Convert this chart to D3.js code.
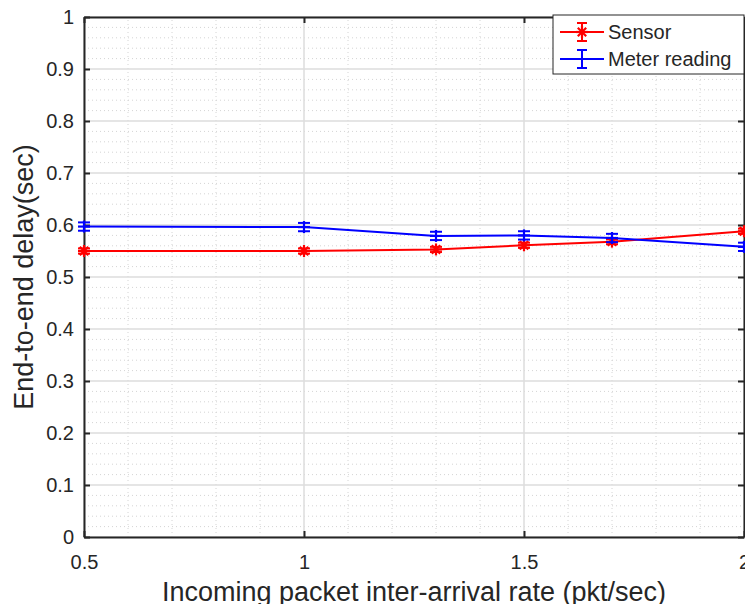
<!DOCTYPE html>
<html>
<head>
<meta charset="utf-8">
<script src="https://cdn.jsdelivr.net/npm/d3@7"></script>
<style>
  html, body { margin: 0; padding: 0; background: #fff; }
  svg text { font-family: "Liberation Sans", Arial, Helvetica, sans-serif; fill: #262626; }
</style>
</head>
<body>
<div id="chart"></div>
<script>
const WIDTH = 745;
const HEIGHT = 604;
const MARGIN = { left: 84, right: 1, top: 17, bottom: 67 };

const RATES = [0.5, 1, 1.3, 1.5, 1.7, 2];
const SENSOR_DELAY = [0.550, 0.550, 0.553, 0.561, 0.568, 0.588];
const SENSOR_ERR = [0.005, 0.005, 0.005, 0.005, 0.005, 0.005];
const METER_DELAY = [0.597, 0.596, 0.579, 0.580, 0.575, 0.558];
const METER_ERR = [0.008, 0.008, 0.008, 0.008, 0.008, 0.008];

const X_TICKS = [0.5, 1, 1.5, 2];
const Y_TICKS = [0, 0.1, 0.2, 0.3, 0.4, 0.5, 0.6, 0.7, 0.8, 0.9, 1];

const SERIES = [
  { name: 'Sensor', color: '#ff0000', values: SENSOR_DELAY, errs: SENSOR_ERR, marker: 'star' },
  { name: 'Meter reading', color: '#0000ff', values: METER_DELAY, errs: METER_ERR, marker: 'plus' }
];

const CAP_HALF = 6;
const AXIS_COLOR = '#262626';

document.addEventListener('DOMContentLoaded', function() {
  drawChart();
});

function drawChart()
{
  var svg = d3.select('#chart').append('svg')
    .attr('width', WIDTH)
    .attr('height', HEIGHT);

  var x = d3.scaleLinear().domain([0.5, 2]).range([MARGIN.left, WIDTH - MARGIN.right]);
  var y = d3.scaleLinear().domain([0, 1]).range([HEIGHT - MARGIN.bottom, MARGIN.top]);

  var x0 = x.range()[0], x1 = x.range()[1];
  var y0 = y.range()[0], y1 = y.range()[1];

  // minor grid (dotted)
  var minorX = d3.range(0.6, 2, 0.1).filter(function(v) { return Math.abs(v * 2 - Math.round(v * 2)) > 1e-6; });
  var minorY = d3.range(0.02, 1, 0.02).filter(function(v) { return Math.abs(v * 10 - Math.round(v * 10)) > 1e-6; });
  var grid = svg.append('g');
  grid.selectAll('line.mx').data(minorX).enter().append('line')
    .attr('x1', function(d) { return x(d); }).attr('x2', function(d) { return x(d); })
    .attr('y1', y0).attr('y2', y1)
    .style('stroke', '#d4d4d4').style('stroke-width', 1).style('stroke-dasharray', '1,3');
  grid.selectAll('line.my').data(minorY).enter().append('line')
    .attr('y1', function(d) { return y(d); }).attr('y2', function(d) { return y(d); })
    .attr('x1', x0).attr('x2', x1)
    .style('stroke', '#d4d4d4').style('stroke-width', 1).style('stroke-dasharray', '1,3');

  // major grid
  grid.selectAll('line.gx').data(X_TICKS).enter().append('line')
    .attr('x1', function(d) { return x(d); }).attr('x2', function(d) { return x(d); })
    .attr('y1', y0).attr('y2', y1)
    .style('stroke', '#dcdcdc').style('stroke-width', 1.5);
  grid.selectAll('line.gy').data(Y_TICKS).enter().append('line')
    .attr('y1', function(d) { return y(d); }).attr('y2', function(d) { return y(d); })
    .attr('x1', x0).attr('x2', x1)
    .style('stroke', '#dcdcdc').style('stroke-width', 1.5);

  // axes
  var fmt = function(d) { return d3.format('~g')(d); };
  var axB = svg.append('g').attr('transform', 'translate(0,' + y0 + ')')
    .call(d3.axisBottom(x).tickValues(X_TICKS).tickSizeInner(-6).tickSizeOuter(0).tickPadding(18).tickFormat(fmt));
  var axT = svg.append('g').attr('transform', 'translate(0,' + y1 + ')')
    .call(d3.axisTop(x).tickValues(X_TICKS).tickSizeInner(-6).tickSizeOuter(0).tickFormat(''));
  var axL = svg.append('g').attr('transform', 'translate(' + x0 + ',0)')
    .call(d3.axisLeft(y).tickValues(Y_TICKS).tickSizeInner(-6).tickSizeOuter(0).tickPadding(10).tickFormat(fmt));
  var axR = svg.append('g').attr('transform', 'translate(' + x1 + ',0)')
    .call(d3.axisRight(y).tickValues(Y_TICKS).tickSizeInner(-6).tickSizeOuter(0).tickFormat(''));

  [axB, axT, axL, axR].forEach(function(a) {
    a.select('.domain').style('stroke', AXIS_COLOR).style('stroke-width', 2);
    a.selectAll('.tick line').style('stroke', AXIS_COLOR).style('stroke-width', 2);
    a.selectAll('.tick text').style('font-size', '20px').style('fill', AXIS_COLOR);
  });

  // series
  var lineGen = d3.line()
    .x(function(d) { return x(d.x); })
    .y(function(d) { return y(d.y); });

  SERIES.forEach(function(s) {
    var data = RATES.map(function(r, i) { return { x: r, y: s.values[i], e: s.errs[i] }; });
    var g = svg.append('g');

    g.append('path')
      .attr('d', lineGen(data))
      .style('stroke', s.color).style('stroke-width', 2).style('fill', 'none');

    drawErrorBars(g, data, x, y, s.color);
    drawMarkers(g, data.map(function(d) { return [x(d.x), y(d.y)]; }), s.marker, s.color);
  });

  // axis titles
  svg.append('text')
    .attr('x', (x0 + x1) / 2).attr('y', 601)
    .attr('text-anchor', 'middle')
    .style('font-size', '27px')
    .text('Incoming packet inter-arrival rate (pkt/sec)');

  svg.append('text')
    .attr('transform', 'translate(33,' + ((y0 + y1) / 2) + ') rotate(-90)')
    .attr('text-anchor', 'middle')
    .style('font-size', '27px')
    .text('End-to-end delay(sec)');

  drawLegend(svg);
}

function drawErrorBars(g, data, x, y, color)
{
  data.forEach(function(d) {
    var cx = x(d.x), top = y(d.y + d.e), bot = y(d.y - d.e);
    g.append('line').attr('x1', cx).attr('x2', cx).attr('y1', top).attr('y2', bot)
      .style('stroke', color).style('stroke-width', 2);
    [top, bot].forEach(function(yy) {
      g.append('line').attr('x1', cx - CAP_HALF).attr('x2', cx + CAP_HALF).attr('y1', yy).attr('y2', yy)
        .style('stroke', color).style('stroke-width', 2);
    });
  });
}

function drawMarkers(g, pts, kind, color)
{
  pts.forEach(function(p) {
    var cx = p[0], cy = p[1];
    if (kind == 'star') {
      var r = 6;
      [[r, 0], [0, r], [r * 0.7, r * 0.7], [r * 0.7, -r * 0.7]].forEach(function(v) {
        g.append('line').attr('x1', cx - v[0]).attr('x2', cx + v[0]).attr('y1', cy - v[1]).attr('y2', cy + v[1])
          .style('stroke', color).style('stroke-width', 2.2);
      });
    } else {
      var r2 = 6;
      g.append('line').attr('x1', cx - r2).attr('x2', cx + r2).attr('y1', cy).attr('y2', cy)
        .style('stroke', color).style('stroke-width', 2.2);
      g.append('line').attr('x1', cx).attr('x2', cx).attr('y1', cy - r2).attr('y2', cy + r2)
        .style('stroke', color).style('stroke-width', 2.2);
    }
  });
}

function drawLegend(svg)
{
  var lx = 553, ly = 15, lw = 191, lh = 59;
  var lg = svg.append('g');
  lg.append('rect')
    .attr('x', lx).attr('y', ly).attr('width', lw).attr('height', lh)
    .style('fill', '#fff').style('stroke', AXIS_COLOR).style('stroke-width', 1);

  SERIES.forEach(function(s, i) {
    var cy = ly + 17 + i * 27;
    var sx0 = lx + 7, sx1 = lx + 51, mid = (sx0 + sx1) / 2;
    lg.append('line').attr('x1', sx0).attr('x2', sx1).attr('y1', cy).attr('y2', cy)
      .style('stroke', s.color).style('stroke-width', 2);
    lg.append('line').attr('x1', mid).attr('x2', mid).attr('y1', cy - 9).attr('y2', cy + 9)
      .style('stroke', s.color).style('stroke-width', 2);
    [cy - 9, cy + 9].forEach(function(yy) {
      lg.append('line').attr('x1', mid - 5).attr('x2', mid + 5).attr('y1', yy).attr('y2', yy)
        .style('stroke', s.color).style('stroke-width', 2);
    });
    if (s.marker == 'star') {
      drawMarkers(lg, [[mid, cy]], 'star', s.color);
    }
    lg.append('text')
      .attr('x', lx + 55).attr('y', cy + 7)
      .style('font-size', '20px')
      .text(s.name);
  });
}
</script>
</body>
</html>
